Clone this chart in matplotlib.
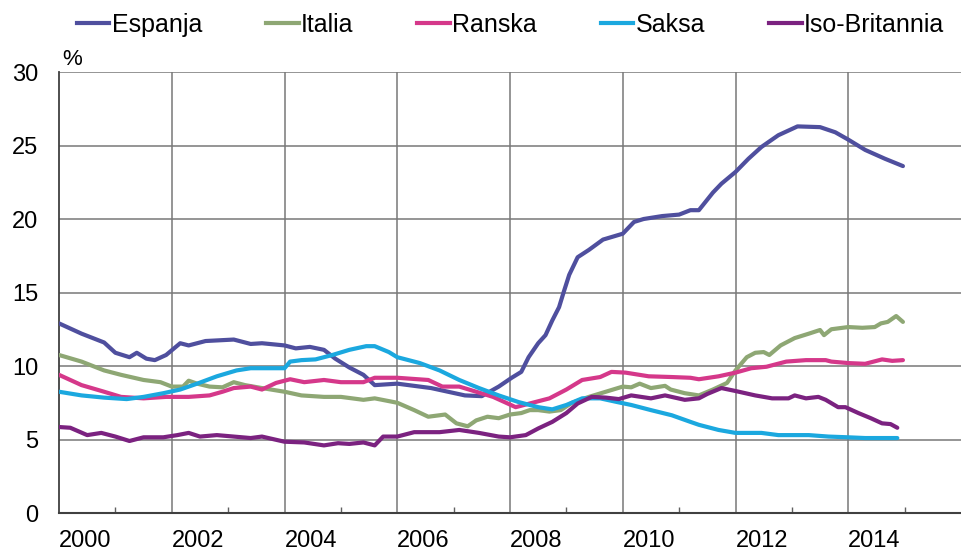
import numpy as np
import matplotlib
matplotlib.use('Agg')
import matplotlib.pyplot as plt
from matplotlib.lines import Line2D

plt.rcParams['font.family'] = ['Liberation Sans', 'DejaVu Sans']

# data (decimal year, %)
espanja_t = [2000.0, 2000.4, 2000.8, 2001.0, 2001.25, 2001.38, 2001.55, 2001.7, 2001.9, 2002.15,
             2002.3, 2002.6, 2003.1, 2003.4, 2003.6, 2004.0, 2004.2, 2004.45, 2004.7, 2004.9,
             2005.15, 2005.4, 2005.6, 2006.0, 2006.6, 2007.2, 2007.5, 2007.8, 2008.03, 2008.2,
             2008.33, 2008.5, 2008.63, 2008.75, 2008.87, 2008.95, 2009.05, 2009.2, 2009.4, 2009.65,
             2010.0, 2010.2, 2010.37, 2010.7, 2011.0, 2011.2, 2011.35, 2011.6, 2011.75, 2012.0,
             2012.23, 2012.46, 2012.76, 2013.1, 2013.5, 2013.77, 2014.0, 2014.3, 2014.65, 2014.97]
espanja_v = [12.9, 12.2, 11.6, 10.9, 10.6, 10.9, 10.5, 10.4, 10.75, 11.55,
             11.4, 11.7, 11.8, 11.5, 11.55, 11.4, 11.2, 11.3, 11.1, 10.5,
             9.9, 9.4, 8.7, 8.8, 8.5, 8.0, 7.95, 8.6, 9.2, 9.6,
             10.6, 11.55, 12.1, 13.1, 14.0, 15.0, 16.2, 17.4, 17.9, 18.6,
             19.0, 19.8, 20.0, 20.2, 20.3, 20.6, 20.6, 21.8, 22.4, 23.2,
             24.1, 24.9, 25.7, 26.3, 26.25, 25.9, 25.4, 24.7, 24.1, 23.6]

italia_t = [2000.0, 2000.4, 2000.8, 2001.1, 2001.5, 2001.8, 2002.0, 2002.2, 2002.3, 2002.45,
            2002.67, 2002.9, 2003.1, 2003.3, 2003.6, 2004.0, 2004.3, 2004.7, 2005.0, 2005.4,
            2005.6, 2006.0, 2006.3, 2006.55, 2006.85, 2007.05, 2007.25, 2007.4, 2007.6, 2007.8,
            2008.0, 2008.2, 2008.35, 2008.5, 2008.7, 2008.9, 2009.1, 2009.4, 2009.7, 2010.0,
            2010.15, 2010.3, 2010.5, 2010.75, 2010.85, 2011.1, 2011.35, 2011.6, 2011.85, 2012.0,
            2012.2, 2012.35, 2012.5, 2012.6, 2012.8, 2013.05, 2013.3, 2013.5, 2013.57, 2013.7,
            2014.0, 2014.25, 2014.47, 2014.58, 2014.7, 2014.85, 2014.97]
italia_v = [10.75, 10.3, 9.7, 9.4, 9.05, 8.9, 8.6, 8.6, 9.0, 8.8,
            8.6, 8.55, 8.9, 8.7, 8.5, 8.25, 8.0, 7.9, 7.9, 7.7,
            7.8, 7.5, 7.0, 6.55, 6.7, 6.1, 5.9, 6.3, 6.55, 6.45,
            6.7, 6.8, 7.0, 7.0, 6.9, 7.0, 7.5, 7.9, 8.25, 8.6,
            8.55, 8.8, 8.5, 8.65, 8.4, 8.15, 8.0, 8.4, 8.85, 9.7,
            10.6, 10.9, 10.95, 10.75, 11.4, 11.9, 12.2, 12.45, 12.1, 12.5,
            12.65, 12.6, 12.65, 12.9, 13.0, 13.4, 13.0]

ranska_t = [2000.0, 2000.4, 2000.8, 2001.1, 2001.5, 2001.9, 2002.3, 2002.67, 2002.9, 2003.1,
            2003.4, 2003.6, 2003.85, 2004.1, 2004.35, 2004.7, 2005.0, 2005.4, 2005.6, 2006.0,
            2006.55, 2006.8, 2007.1, 2007.4, 2007.7, 2007.93, 2008.1, 2008.4, 2008.7, 2009.0,
            2009.28, 2009.6, 2009.8, 2010.05, 2010.46, 2010.87, 2011.2, 2011.35, 2011.7, 2012.0,
            2012.28, 2012.55, 2012.9, 2013.25, 2013.6, 2013.7, 2014.0, 2014.3, 2014.6, 2014.78,
            2014.97]
ranska_v = [9.4, 8.7, 8.25, 7.9, 7.8, 7.9, 7.9, 8.0, 8.25, 8.5,
            8.6, 8.4, 8.85, 9.1, 8.9, 9.05, 8.9, 8.9, 9.2, 9.2,
            9.05, 8.6, 8.6, 8.25, 7.9, 7.5, 7.2, 7.5, 7.8, 8.4,
            9.05, 9.25, 9.6, 9.55, 9.3, 9.25, 9.2, 9.1, 9.3, 9.55,
            9.85, 9.95, 10.3, 10.4, 10.4, 10.3, 10.2, 10.15, 10.45, 10.35,
            10.4]

saksa_t = [2000.0, 2000.4, 2000.8, 2001.2, 2001.5, 2001.85, 2002.15, 2002.45, 2002.8, 2003.15,
           2003.4, 2004.0, 2004.1, 2004.3, 2004.55, 2004.85, 2005.15, 2005.45, 2005.6, 2005.85,
           2006.0, 2006.4, 2006.75, 2007.1, 2007.45, 2007.8, 2008.15, 2008.5, 2008.75, 2009.0,
           2009.28, 2009.6, 2009.9, 2010.15, 2010.5, 2010.87, 2011.2, 2011.35, 2011.7, 2012.0,
           2012.46, 2012.76, 2013.3, 2013.65, 2014.0, 2014.3, 2014.87]
saksa_v = [8.25, 8.0, 7.85, 7.75, 7.9, 8.15, 8.4, 8.8, 9.3, 9.7,
           9.85, 9.85, 10.3, 10.4, 10.45, 10.75, 11.1, 11.35, 11.35, 10.95,
           10.6, 10.2, 9.7, 9.05, 8.5, 8.0, 7.55, 7.2, 7.05, 7.35,
           7.8, 7.8, 7.55, 7.35, 7.0, 6.65, 6.2, 6.0, 5.65, 5.45,
           5.45, 5.3, 5.3, 5.2, 5.15, 5.1, 5.1]

britannia_t = [2000.0, 2000.2, 2000.5, 2000.75, 2001.0, 2001.25, 2001.5, 2001.85, 2002.1, 2002.3,
               2002.5, 2002.8, 2003.1, 2003.4, 2003.6, 2004.0, 2004.35, 2004.7, 2004.95, 2005.15,
               2005.4, 2005.6, 2005.75, 2006.0, 2006.3, 2006.75, 2007.1, 2007.45, 2007.8, 2008.0,
               2008.28, 2008.5, 2008.75, 2009.0, 2009.2, 2009.45, 2009.7, 2009.93, 2010.15, 2010.5,
               2010.75, 2011.1, 2011.35, 2011.5, 2011.75, 2012.0, 2012.35, 2012.65, 2012.94, 2013.05,
               2013.25, 2013.47, 2013.6, 2013.82, 2013.95, 2014.18, 2014.4, 2014.6, 2014.75, 2014.87]
britannia_v = [5.85, 5.8, 5.3, 5.45, 5.2, 4.9, 5.15, 5.15, 5.3, 5.45,
               5.2, 5.3, 5.2, 5.1, 5.2, 4.85, 4.8, 4.6, 4.75, 4.7,
               4.8, 4.6, 5.2, 5.2, 5.5, 5.5, 5.65, 5.45, 5.2, 5.15,
               5.3, 5.75, 6.2, 6.8, 7.45, 7.9, 7.85, 7.75, 8.0, 7.8,
               8.0, 7.7, 7.8, 8.1, 8.5, 8.3, 8.0, 7.8, 7.8, 8.0,
               7.8, 7.9, 7.7, 7.2, 7.2, 6.8, 6.45, 6.1, 6.05, 5.8]

names = ['Espanja', 'Italia', 'Ranska', 'Saksa', 'Iso-Britannia']
colors = ['#4f4f9e', '#8ea774', '#d5388a', '#1ba8df', '#7b2280']
series = [(espanja_t, espanja_v), (italia_t, italia_v), (ranska_t, ranska_v),
          (saksa_t, saksa_v), (britannia_t, britannia_v)]
year_labels = ['2000', '2002', '2004', '2006', '2008', '2010', '2012', '2014']
y_ticks = [0, 5, 10, 15, 20, 25, 30]

fig = plt.figure(figsize=(9.61, 5.53), dpi=100)
ax = fig.add_axes([0.0614, 0.0723, 0.9386, 0.7975])

grid_c = '#787878'
for y in y_ticks[1:]:
    ax.axhline(y, color=grid_c, lw=1.1, zorder=1)
for yr in range(2002, 2016, 2):
    ax.axvline(yr, color=grid_c, lw=1.1, zorder=1)

for (t, v), c in zip(series, colors):
    ax.plot(t, v, color=c, lw=3.0, solid_capstyle='round', solid_joinstyle='round', zorder=3)

ax.set_xlim(2000, 2016)
ax.set_ylim(0, 30)
ax.set_yticks(y_ticks)
ax.set_yticklabels([str(y) for y in y_ticks], fontsize=17)
ax.tick_params(axis='y', length=0, pad=15)

ax.set_xticks([int(s) for s in year_labels])
ax.set_xticklabels(year_labels, fontsize=17, ha='left')
ax.tick_params(axis='x', which='major', length=0, pad=12)
ax.set_xticks(np.arange(2001, 2016, 2), minor=True)
ax.tick_params(axis='x', which='minor', direction='in', length=4, width=1, color='#606060')

for s in ['top', 'right']:
    ax.spines[s].set_visible(False)
ax.spines['left'].set_color('#404040')
ax.spines['left'].set_linewidth(1.3)
ax.spines['bottom'].set_color('#404040')
ax.spines['bottom'].set_linewidth(1.5)

ax.text(0.004, 1.005, '%', transform=ax.transAxes, fontsize=16, ha='left', va='bottom')

handles = [Line2D([0], [0], color=c, lw=3.0) for c in colors]
fig.legend(handles, names, loc='center left', bbox_to_anchor=(0.080, 0.955), ncol=5,
           frameon=False, fontsize=18, handlelength=1.3, handletextpad=0.1,
           columnspacing=2.55, borderaxespad=0, borderpad=0)

fig.savefig('out.png', dpi=100)
